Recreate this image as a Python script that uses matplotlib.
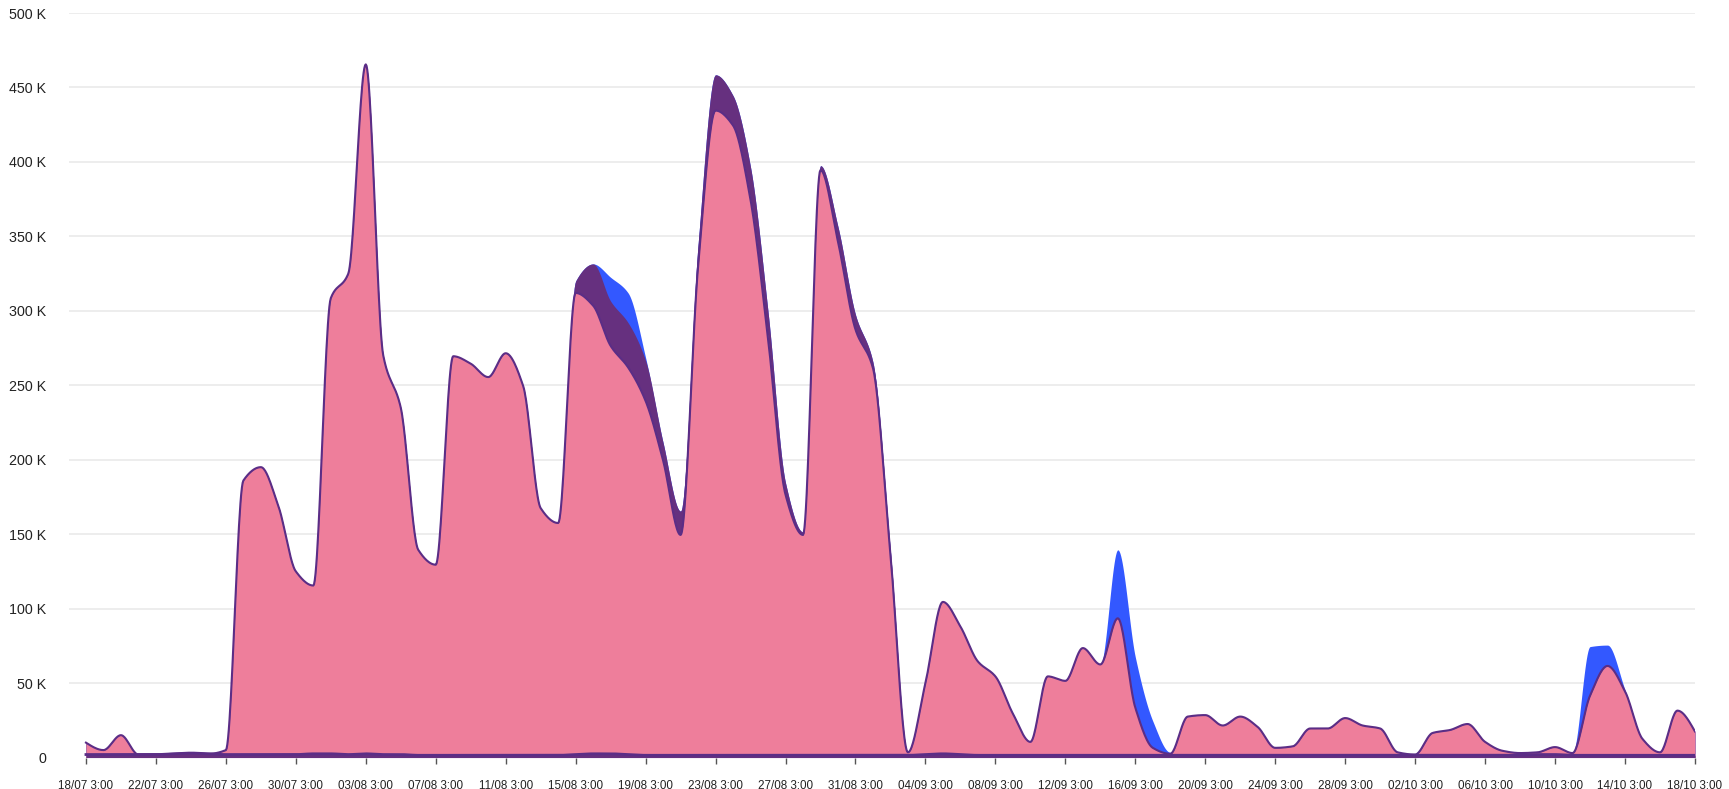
import numpy as np
import matplotlib.pyplot as plt

# ---------------------------------------------------------------------
# Data (daily, 18/07 3:00 -> 18/10 3:00), values in thousands
# ---------------------------------------------------------------------

base_k = [2, 2, 2, 2, 2, 2.5, 3, 2.5, 2, 2, 2, 2, 2, 2.5, 2.5, 2, 2.5, 2, 2, 1.5,
          1.5, 1.5, 1.5, 1.5, 1.5, 1.5, 1.5, 1.5, 2, 2.5, 2.5, 2, 1.5, 1.5, 1.5, 1.5,
          1.5, 1.5, 1.5, 1.5, 1.5, 1.5, 1.5, 1.5, 1.5, 1.5, 1.5, 1.5, 2, 2.5, 2, 1.5,
          1.5, 1.5, 1.5, 1.5, 1.5, 1.5, 1.5, 1.5, 1.5, 1.5, 1.5, 1.5, 1.5, 1.5, 1.5,
          1.5, 1.5, 1.5, 1.5, 1.5, 1.5, 1.5, 1.5, 1.5, 1.5, 1.5, 1.5, 1.5, 1.5, 1.5,
          1.5, 2, 2, 1.5, 1.5, 1.5, 1.5, 1.5, 1.5, 1.5, 1.5]

pink_k = [8, 3, 13, 0, 0, 0, 0, 0, 3, 184, 193, 167, 123, 113, 306, 323, 463, 268,
          233, 138, 128, 268, 263, 254, 270, 248, 166, 156, 310, 301, 274, 260, 238,
          198, 148, 328, 433, 423, 373, 280, 175, 148, 393, 345, 286, 260, 135, 2,
          48, 102, 86, 63, 53, 28, 9, 53, 50, 72, 61, 92, 32, 5, 1, 26, 27, 20, 26,
          19, 5, 6, 18, 18, 25, 20, 18, 2, 0.5, 15, 17, 21, 9, 3, 1.5, 1.5, 5, 1.5,
          40, 60, 43, 11, 2, 30, 16]

purple_k = [0] * 28 + [8, 28, 30, 30, 27, 12, 16, 15, 24, 20, 22, 18, 8, 2, 3, 10,
                       10, 4, 2] + [0] * 46

blue_k = [0] * 30 + [16, 20, 2] + [0] * 26 + [46, 34, 18, 1] + [0] * 23 + \
         [33, 14, 1] + [0] * 4

tick_labels = ["18/07 3:00", "22/07 3:00", "26/07 3:00", "30/07 3:00", "03/08 3:00",
               "07/08 3:00", "11/08 3:00", "15/08 3:00", "19/08 3:00", "23/08 3:00",
               "27/08 3:00", "31/08 3:00", "04/09 3:00", "08/09 3:00", "12/09 3:00",
               "16/09 3:00", "20/09 3:00", "24/09 3:00", "28/09 3:00", "02/10 3:00",
               "06/10 3:00", "10/10 3:00", "14/10 3:00", "18/10 3:00"]

PINK = "#ee7e9b"
PURPLE = "#66307f"
BLUE = "#3358ff"
STROKE = "#5b2d86"


# ---------------------------------------------------------------------
# Monotone-x curve (same look as the original smooth areas)
# ---------------------------------------------------------------------

def monotone_curve(x, y, steps=24):
    x = np.asarray(x, float)
    y = np.asarray(y, float)
    h = np.diff(x)
    d = np.diff(y) / h
    m = np.zeros_like(y)
    for i in range(1, len(y) - 1):
        if d[i - 1] * d[i] > 0:
            m[i] = 2.0 / (1.0 / d[i - 1] + 1.0 / d[i])
    m[0] = (3 * d[0] - m[1]) / 2
    m[-1] = (3 * d[-1] - m[-2]) / 2
    xs, ys = [], []
    for i in range(len(h)):
        t = np.linspace(0, 1, steps, endpoint=False)
        h00 = 2 * t**3 - 3 * t**2 + 1
        h10 = t**3 - 2 * t**2 + t
        h01 = -2 * t**3 + 3 * t**2
        h11 = t**3 - t**2
        xs.append(x[i] + t * h[i])
        ys.append(h00 * y[i] + h10 * h[i] * m[i] + h01 * y[i + 1] + h11 * h[i] * m[i + 1])
    xs.append([x[-1]])
    ys.append([y[-1]])
    return np.concatenate(xs), np.concatenate(ys)


days = np.arange(len(pink_k))
base = np.array(base_k) * 1000
top_pink = base + np.array(pink_k) * 1000
top_purple = top_pink + np.array(purple_k) * 1000
top_blue = top_purple + np.array(blue_k) * 1000

plt.rcParams['font.family'] = ['Liberation Sans', 'DejaVu Sans']

fig = plt.figure(figsize=(17.29, 7.89), dpi=100)
ax = fig.add_axes([0.0399, 0.0399, 0.9404, 0.9436])

for v in range(50000, 500001, 50000):
    ax.axhline(v, color="#e8e8e8", lw=1.1, zorder=0)

xb, yb = monotone_curve(days, top_blue)
ax.fill_between(xb, 0, yb, color=BLUE, lw=0, zorder=1)
xu, yu = monotone_curve(days, top_purple)
ax.fill_between(xu, 0, yu, color=PURPLE, lw=0, zorder=2)
xp, yp = monotone_curve(days, top_pink)
ax.fill_between(xp, 0, yp, color=PINK, lw=0, zorder=3)
ax.plot(xp, yp, color=STROKE, lw=1.5, zorder=4)
x0, y0 = monotone_curve(days, base)
ax.fill_between(x0, 0, y0, color=PURPLE, lw=0, zorder=5)
ax.plot(x0, y0, color=STROKE, lw=2, zorder=6)

ax.set_xlim(-0.97, 92)
ax.set_ylim(0, 500000)

ax.set_yticks(range(0, 500001, 50000))
ax.set_yticklabels(["0"] + [f"{v} K" for v in range(50, 501, 50)])
ax.tick_params(axis="y", length=0, pad=16.5, labelsize=10.3, labelcolor="#222222")

ax.set_xticks(days[::4])
ax.set_xticklabels(tick_labels)
ax.tick_params(axis="x", length=4, width=1, color="#555555", pad=12,
               labelsize=8.4, labelcolor="#222222")

for s in ax.spines.values():
    s.set_visible(False)

fig.savefig("out.png", dpi=100)
